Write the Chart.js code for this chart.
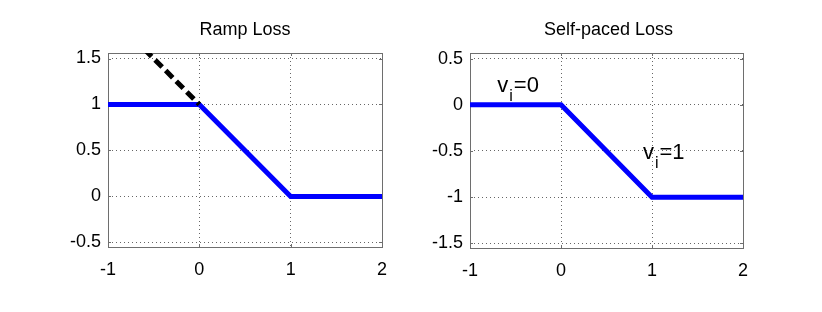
<!DOCTYPE html>
<html>
<head>
<meta charset="utf-8">
<script src="https://cdn.jsdelivr.net/npm/chart.js@4/dist/chart.umd.min.js"></script>
<style>
  html, body { margin: 0; padding: 0; background: #fff; }
  #wrap { position: relative; width: 822px; height: 312px; }
  .panel { position: absolute; top: 0; width: 411px; height: 312px; }
</style>
</head>
<body>
<div id="wrap">
  <div class="panel" style="left:0"><canvas id="ramp" width="411" height="312"></canvas></div>
  <div class="panel" style="left:411px"><canvas id="selfPaced" width="411" height="312"></canvas></div>
</div>
<script>
// values
const xTicks = [-1, 0, 1, 2];
const rampTicks = [-0.5, 0, 0.5, 1, 1.5];
const selfPacedTicks = [-1.5, -1, -0.5, 0, 0.5];
const rampRange = [-0.55, 1.56];
const selfPacedRange = [-1.55, 0.56];

const lossX = [-1, 0, 1, 2];
const rampLoss = [1, 1, 0, 0];
const hingeX = [-0.6, 0];
const hingeLoss = [1.6, 1];
const selfPacedLoss = [0, 0, -1, -1];

const titles = ['Ramp Loss', 'Self-paced Loss'];
const vLabels = ['0', '1'];

const FONT = '"Liberation Sans", Arial, Helvetica, sans-serif';
const TICK_FONT = '"Liberation Sans Narrow", "Liberation Sans", Arial, sans-serif';

function pts(xs, ys) {
  return xs.map((x, i) => ({ x: x, y: ys[i] }));
}

// MATLAB style box, inward tick marks, title and text labels
const matlabAxes = {
  id: 'matlabAxes',
  beforeDatasetsDraw(chart, args, opts) {
    const { ctx, chartArea: a, scales } = chart;
    ctx.save();
    ctx.strokeStyle = '#6e6e6e';
    ctx.lineWidth = 1;
    ctx.beginPath();
    xTicks.forEach(v => {
      const px = Math.round(scales.x.getPixelForValue(v)) + 0.5;
      ctx.moveTo(px, a.bottom); ctx.lineTo(px, a.bottom - 3);
      ctx.moveTo(px, a.top); ctx.lineTo(px, a.top + 3);
    });
    opts.yTicks.forEach(v => {
      const py = Math.round(scales.y.getPixelForValue(v)) + 0.5;
      ctx.moveTo(a.left, py); ctx.lineTo(a.left + 3, py);
      ctx.moveTo(a.right, py); ctx.lineTo(a.right - 3, py);
    });
    ctx.stroke();
    ctx.strokeRect(Math.round(a.left) + 0.5, Math.round(a.top) + 0.5,
      Math.round(a.right - a.left), Math.round(a.bottom - a.top));
    ctx.restore();
  },
  afterDraw(chart, args, opts) {
    const { ctx, chartArea: a, scales } = chart;
    ctx.save();
    ctx.fillStyle = '#000';
    ctx.textAlign = 'center';
    ctx.textBaseline = 'alphabetic';
    ctx.font = '18px ' + FONT;
    ctx.fillText(opts.title, (a.left + a.right) / 2 + opts.titleShift, 35);

    ctx.textAlign = 'left';
    (opts.notes || []).forEach(n => {
      let x = scales.x.getPixelForValue(n.x);
      const y = scales.y.getPixelForValue(n.y);
      ctx.font = '22px ' + FONT;
      ctx.fillText('v', x, y);
      x += ctx.measureText('v').width + 1;
      ctx.font = '16px ' + FONT;
      ctx.fillText('i', x, y + 9);
      x += ctx.measureText('i').width + 1;
      ctx.font = '22px ' + FONT;
      ctx.fillText('=' + n.label, x, y);
    });
    ctx.restore();
  }
};

function makeChart(id, datasets, yRange, yTicks, box, extra) {
  return new Chart(document.getElementById(id), {
    type: 'line',
    data: { datasets: datasets },
    options: {
      responsive: false,
      animation: false,
      devicePixelRatio: 1,
      layout: { padding: { left: 0, top: box.top, right: box.right, bottom: 34 } },
      plugins: {
        legend: { display: false },
        tooltip: { enabled: false },
        matlabAxes: Object.assign({ yTicks: yTicks }, extra)
      },
      scales: {
        x: {
          type: 'linear',
          min: xTicks[0],
          max: xTicks[xTicks.length - 1],
          afterBuildTicks: axis => { axis.ticks = xTicks.map(v => ({ value: v })); },
          afterFit: axis => { axis.height = box.bottom - 34; },
          grid: { color: 'rgba(0,0,0,0.6)', lineWidth: 1, drawTicks: false },
          border: { display: false, dash: [1, 3] },
          ticks: {
            color: '#000',
            font: { family: TICK_FONT, size: 18 },
            padding: 12,
            maxRotation: 0,
            callback: v => String(v)
          }
        },
        y: {
          type: 'linear',
          min: yRange[0],
          max: yRange[1],
          afterBuildTicks: axis => { axis.ticks = yTicks.map(v => ({ value: v })); },
          afterFit: axis => { axis.width = box.left; },
          grid: { color: 'rgba(0,0,0,0.6)', lineWidth: 1, drawTicks: false },
          border: { display: false, dash: [1, 3] },
          ticks: {
            color: '#000',
            font: { family: TICK_FONT, size: 18 },
            padding: 7,
            callback: v => String(v)
          }
        }
      }
    },
    plugins: [matlabAxes]
  });
}

const blueLine = {
  borderColor: '#0000ff',
  backgroundColor: '#0000ff',
  borderWidth: 5,
  pointRadius: 0,
  tension: 0,
  fill: false
};

makeChart('ramp', [
  {
    data: pts(hingeX, hingeLoss),
    borderColor: '#000',
    borderWidth: 5,
    borderDash: [10, 5],
    pointRadius: 0,
    fill: false
  },
  Object.assign({ data: pts(lossX, rampLoss) }, blueLine)
], rampRange, rampTicks,
  { left: 108, right: 29, top: 53, bottom: 65 },
  { title: titles[0], titleShift: 0 });

makeChart('selfPaced', [
  Object.assign({ data: pts(lossX, selfPacedLoss) }, blueLine)
], selfPacedRange, selfPacedTicks,
  { left: 59, right: 79, top: 53, bottom: 64 },
  {
    title: titles[1],
    titleShift: 2,
    notes: [
      { x: -0.7, y: 0.14, label: vLabels[0] },
      { x: 0.9, y: -0.59, label: vLabels[1] }
    ]
  });
</script>
</body>
</html>
